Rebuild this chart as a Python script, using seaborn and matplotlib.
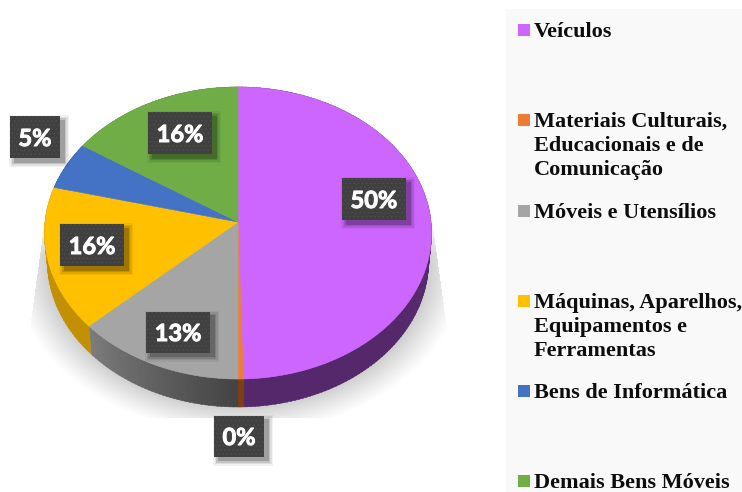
import numpy as np
import matplotlib
matplotlib.use("Agg")
import matplotlib.pyplot as plt
import matplotlib.patheffects as pe
from matplotlib.patches import Rectangle, Polygon
from matplotlib.transforms import Transform
import seaborn as sns

categories = ["Veículos", "Materiais Culturais,\nEducacionais e de\nComunicação",
              "Móveis e Utensílios", "Máquinas, Aparelhos,\nEquipamentos e\nFerramentas",
              "Bens de Informática", "Demais Bens Móveis"]
values = [49.6, 0.4, 13.1, 15.8, 5.3, 15.8]
top_colors = ["#CC66FF", "#ED7D31", "#A5A5A5", "#FFC000", "#4472C4", "#70AD47"]
wall_colors = [("#54286A", "#54286A"), ("#7F3F12", "#7F3F12"), ("#444444", "#7C7C7C"),
               ("#C29000", "#C29000"), ("#2F4F8C", "#2F4F8C"), ("#4E7A31", "#4E7A31")]

# layout (pixels)
CX, CY, RX, RY, K, DEPTH = 238.0, 222.0, 193.0, 145.2, 0.0753, 28.0
label_centers = [(374, 199), (1000, 1000), (178, 332), (92, 245), (35, 137), (180, 133)]
label_sizes = [(64, 42), (50, 41), (64, 41), (64, 42), (50, 42), (64, 42)]
zero_center = (239, 436)
legend_y = [30, 120, 211, 301, 391, 481]


class Tilt(Transform):
    input_dims = output_dims = 2

    def __init__(self, rx=RX, dy=0.0):
        super().__init__()
        self.rx, self.dy = rx, dy

    def transform_non_affine(self, xy):
        xy = np.asarray(xy, float)
        w = 1 + K * xy[:, 1]
        return np.column_stack([CX + self.rx * xy[:, 0] / w,
                                CY - RY * xy[:, 1] / w + self.dy])


sns.set_theme(style="white")
plt.rcParams["font.family"] = ["Liberation Serif", "DejaVu Sans"]
plt.rcParams["hatch.linewidth"] = 0.4
palette = sns.color_palette(top_colors)

fig = plt.figure(figsize=(7.42, 4.92), dpi=100, facecolor="white")
ax = fig.add_axes([0, 0, 1, 1])

# pie top
wedges, _ = ax.pie(values, colors=palette, startangle=90, counterclock=False, frame=True,
                   wedgeprops=dict(linewidth=0.4))
for w, c in zip(wedges, palette):
    w.set_edgecolor(c)
    w.set_transform(Tilt() + ax.transData)
    w.set_zorder(5)
ax.set_aspect("auto")
ax.set_xlim(0, 742)
ax.set_ylim(492, 0)
ax.axis("off")

# soft floor shadow
gx, gy = np.meshgrid(np.arange(0, 742), np.arange(0, 492))
d = np.hypot((gx - CX) / 196.0, (gy - 262.0) / 148.0)
fade = np.clip(1 - (d - 0.96) / 0.2, 0, 1) ** 1.1
side = np.clip((gy - 215) / 40, 0, 1)
limit_l = 45 - (gy - 215) * 13 / 95
limit_r = 431 + (gy - 215) * 13 / 95
mask = (gx > limit_l) & (gx < limit_r) & (gy < 418) & (gy > 215)
rgba = np.zeros(gx.shape + (4,))
rgba[..., :3] = 0.55
rgba[..., 3] = 0.45 * fade * mask * side
ax.imshow(rgba, extent=(0, 742, 492, 0), zorder=1, aspect="auto", interpolation="bilinear")
ax.set_xlim(0, 742)
ax.set_ylim(492, 0)

# pie wall
upper, lower = Tilt(), Tilt(rx=RX * 0.985, dy=DEPTH)
edges = np.cumsum([0] + values) / 100 * 2 * np.pi
for i, (c_start, c_end) in enumerate(wall_colors):
    n = max(2, int(np.ceil((edges[i + 1] - edges[i]) / 0.02)))
    th = np.linspace(edges[i], edges[i + 1], n + 1)
    a, b = np.array(matplotlib.colors.to_rgb(c_start)), np.array(matplotlib.colors.to_rgb(c_end))
    for j in range(n):
        t = np.array([th[j], min(th[j + 1] + 0.005, edges[i + 1])])
        ring = np.column_stack([np.sin(t), np.cos(t)])
        pts = np.vstack([upper.transform_non_affine(ring), lower.transform_non_affine(ring)[::-1]])
        col = a + (b - a) * (j / max(n - 1, 1))
        ax.add_patch(Polygon(pts, closed=True, facecolor=col, edgecolor=col, lw=0.3, zorder=3))


def label(cx, cy, w, h, txt):
    for grow, alpha in ((5, 0.05), (3.5, 0.08), (2, 0.12), (0.5, 0.18)):
        ax.add_patch(Rectangle((cx - w / 2 + 4 - grow, cy - h / 2 + 4 - grow), w + 2 * grow, h + 2 * grow,
                               facecolor="black", edgecolor="none", alpha=alpha, zorder=8))
    ax.add_patch(Rectangle((cx - w / 2, cy - h / 2), w, h, facecolor="#404040", edgecolor="#505050",
                           hatch="....", lw=0, zorder=9))
    t = ax.text(cx, cy + 1.5, txt, color="white", ha="center", va="center", fontsize=17, fontweight="bold",
                family=["Lato", "DejaVu Sans"], zorder=10)
    t.set_path_effects([pe.withStroke(linewidth=0.7, foreground="white")])


for i, v in enumerate(values):
    c = zero_center if i == 1 else label_centers[i]
    label(c[0], c[1], *label_sizes[i], f"{v:.0f}%")

# legend panel
ax.add_patch(Rectangle((506, 9), 236, 483, facecolor="#F9F9F9", edgecolor="none", zorder=2))
for name, col, y in zip(categories, palette, legend_y):
    ax.add_patch(Rectangle((518, y - 6), 12, 12, facecolor=col, edgecolor="none", zorder=4))
    ax.text(534, y - 8, name, ha="left", va="top", fontsize=16.0, fontweight="bold", color="#0d0d0d",
            linespacing=1.28, zorder=4, clip_on=False)

fig.savefig("out.png", dpi=100)
